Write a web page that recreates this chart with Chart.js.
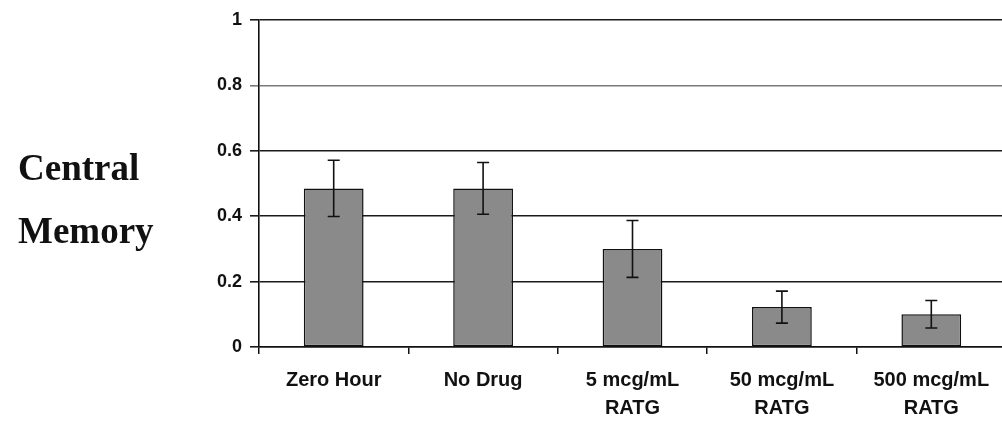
<!DOCTYPE html>
<html>
<head>
<meta charset="utf-8">
<script src="https://cdn.jsdelivr.net/npm/chart.js@4.4.1/dist/chart.umd.min.js"></script>
<style>
  html, body { margin: 0; padding: 0; background: #fff; overflow: hidden; width: 1002px; height: 423px; }
  #wrap { position: relative; width: 1010px; height: 423px; }
  canvas { position: absolute; left: 0; top: 0; }
  .ytitle { position: absolute; left: 18px; font-family: "Liberation Serif", "Times New Roman", Times, serif;
            font-weight: bold; font-size: 37px; line-height: 37px; color: #111; white-space: nowrap; }
</style>
</head>
<body>
<div id="wrap">
  <canvas id="c" width="1010" height="423"></canvas>
  <div class="ytitle" style="top:149px;">Central</div>
  <div class="ytitle" style="top:212px;">Memory</div>
</div>
<script>
const categories = ['Zero Hour', 'No Drug', ['5 mcg/mL', 'RATG'], ['50 mcg/mL', 'RATG'], ['500 mcg/mL', 'RATG']];
const values = [0.485, 0.485, 0.30, 0.122, 0.100];
const errors = [0.086, 0.079, 0.087, 0.049, 0.042];
const yTicks = [0, 0.2, 0.4, 0.6, 0.8, 1];
const yTickLabels = ['0', '0.2', '0.4', '0.6', '0.8', '1'];

const errorBars = {
  id: 'errorBars',
  afterDatasetsDraw(chart) {
    const ctx = chart.ctx;
    const meta = chart.getDatasetMeta(0);
    const ys = chart.scales.y;
    ctx.save();
    ctx.strokeStyle = '#111';
    ctx.lineWidth = 1.6;
    meta.data.forEach((bar, i) => {
      const x = bar.x;
      const yTop = ys.getPixelForValue(values[i] + errors[i]);
      const yBot = ys.getPixelForValue(values[i] - errors[i]);
      const cap = 6;
      ctx.beginPath();
      ctx.moveTo(x, yTop); ctx.lineTo(x, yBot);
      ctx.moveTo(x - cap, yTop); ctx.lineTo(x + cap, yTop);
      ctx.moveTo(x - cap, yBot); ctx.lineTo(x + cap, yBot);
      ctx.stroke();
    });
    ctx.restore();
  }
};

new Chart(document.getElementById('c'), {
  type: 'bar',
  data: {
    labels: categories,
    datasets: [{
      data: values,
      backgroundColor: '#8a8a8a',
      borderColor: '#111',
      borderWidth: 1.5,
      borderSkipped: false,
      categoryPercentage: 1.0,
      barPercentage: 0.4
    }]
  },
  options: {
    responsive: false,
    devicePixelRatio: 1,
    animation: false,
    layout: { padding: { top: 20, right: 4, left: 0, bottom: 0 } },
    plugins: { legend: { display: false }, tooltip: { enabled: false } },
    scales: {
      x: {
        grid: { drawOnChartArea: false, drawTicks: true, tickLength: 7, color: '#111', lineWidth: 1.5, offset: true },
        border: { color: '#111', width: 1.5 },
        ticks: {
          color: '#111', padding: 12, maxRotation: 0, autoSkip: false,
          font: { family: '"Liberation Sans", Arial, Helvetica, sans-serif', size: 20, weight: 'bold' , lineHeight: '28px' }
        },
        afterFit: (s) => { s.height = 76; }
      },
      y: {
        min: 0, max: 1,
        afterBuildTicks: (s) => { s.ticks = yTicks.map(v => ({ value: v })); },
        grid: {
          color: (c) => (c.tick && Math.abs(c.tick.value - 0.8) < 1e-6) ? '#7a7a7a' : '#1a1a1a',
          lineWidth: 1.6, tickLength: 9, drawTicks: true
        },
        border: { color: '#111', width: 1.6 },
        ticks: {
          color: '#111', padding: 8,
          callback: (v, i) => yTickLabels[yTicks.findIndex(t => Math.abs(t - v) < 1e-9)],
          font: { family: '"Liberation Sans", Arial, Helvetica, sans-serif', size: 18, weight: 'bold' }
        },
        afterFit: (s) => { s.width = 259; }
      }
    }
  },
  plugins: [errorBars]
});
</script>
</body>
</html>
